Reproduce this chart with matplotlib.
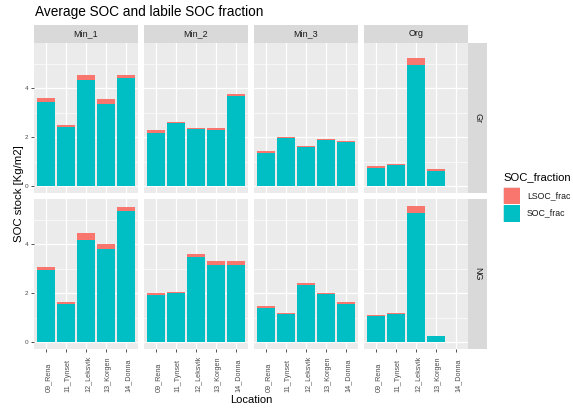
import matplotlib
matplotlib.use("Agg")
import matplotlib.pyplot as plt
import matplotlib.transforms as mtrans
import numpy as np

plt.rcParams['font.family'] = ['Liberation Sans', 'DejaVu Sans']

locations = ["09_Rena", "11_Tynset", "12_Leksvik", "13_Korgen", "14_Donna"]
depths = ["Min_1", "Min_2", "Min_3", "Org"]
treatments = ["Gr", "NG"]

# SOC_frac (stable part) and LSOC_frac (labile part) per treatment / depth / location
soc_frac = {
    "Gr": {
        "Min_1": [3.45, 2.41, 4.32, 3.36, 4.41],
        "Min_2": [2.17, 2.56, 2.32, 2.29, 3.68],
        "Min_3": [1.37, 1.98, 1.58, 1.89, 1.80],
        "Org":   [0.75, 0.87, 4.93, 0.63, np.nan],
    },
    "NG": {
        "Min_1": [2.96, 1.55, 4.16, 3.80, 5.35],
        "Min_2": [1.91, 2.01, 3.46, 3.16, 3.16],
        "Min_3": [1.41, 1.13, 2.34, 1.95, 1.55],
        "Org":   [1.05, 1.14, 5.26, 0.27, np.nan],
    },
}
lsoc_frac = {
    "Gr": {
        "Min_1": [0.16, 0.08, 0.21, 0.19, 0.12],
        "Min_2": [0.12, 0.06, 0.07, 0.10, 0.08],
        "Min_3": [0.07, 0.03, 0.05, 0.04, 0.06],
        "Org":   [0.06, 0.02, 0.28, 0.06, np.nan],
    },
    "NG": {
        "Min_1": [0.11, 0.07, 0.28, 0.21, 0.17],
        "Min_2": [0.11, 0.05, 0.15, 0.14, 0.16],
        "Min_3": [0.06, 0.05, 0.06, 0.07, 0.08],
        "Org":   [0.05, 0.03, 0.30, 0.00, np.nan],
    },
}
y_ticks = [0, 2, 4]
fraction_labels = ["LSOC_frac", "SOC_frac"]

RED = "#F8766D"
TEAL = "#00BFC4"
PANEL_BG = "#EBEBEB"
STRIP_BG = "#D9D9D9"
TXT = "#4D4D4D"

W, H = 573, 412
fig = plt.figure(figsize=(W / 100, H / 100), dpi=100)


def px(x0, y0, x1, y1):
    return [x0 / W, 1 - y1 / H, (x1 - x0) / W, (y1 - y0) / H]


col_x = [(34, 138), (144, 248), (254, 358), (364, 468)]
row_y = [(43, 193), (199, 349)]

ymax = 5.56
ylim = (-0.05 * ymax, ymax * 1.05)
xpos = np.arange(len(locations))

for r, tr in enumerate(treatments):
    for c, dp in enumerate(depths):
        x0, x1 = col_x[c]
        y0, y1 = row_y[r]
        ax = fig.add_axes(px(x0, y0, x1, y1))
        ax.set_facecolor(PANEL_BG)
        for s in ax.spines.values():
            s.set_visible(False)
        ax.set_xlim(-0.6, len(locations) - 0.4)
        ax.set_ylim(*ylim)
        ax.set_yticks(y_ticks)
        ax.set_yticks([1, 3, 5], minor=True)
        ax.set_xticks(xpos)
        ax.grid(True, which="major", color="white", lw=0.9)
        ax.grid(True, which="minor", axis="y", color="white", lw=0.45)
        ax.set_axisbelow(True)
        soc = np.array(soc_frac[tr][dp], dtype=float)
        lsoc = np.array(lsoc_frac[tr][dp], dtype=float)
        ax.bar(xpos, soc, width=0.9, color=TEAL, lw=0)
        ax.bar(xpos, lsoc, width=0.9, bottom=soc, color=RED, lw=0)
        ax.tick_params(which="minor", length=0)
        ax.tick_params(which="major", length=2.5, width=0.6, color="#333333",
                       labelsize=4.6, labelcolor=TXT, pad=1.5)
        if c == 0:
            ax.set_yticklabels([str(t) for t in y_ticks])
        else:
            ax.tick_params(axis="y", which="major", length=0, labelleft=False)
        if r == 1:
            ax.tick_params(axis="x", labelbottom=False)
            trans = mtrans.blended_transform_factory(ax.transData, fig.transFigure)
            for xi, lab in zip(xpos, locations):
                ax.text(xi - 0.07, 1 - 392 / H, lab, rotation=90, ha="left",
                        va="bottom", fontsize=5.2, color=TXT, transform=trans)
        else:
            ax.tick_params(axis="x", which="major", length=0, labelbottom=False)

        # column strip
        if r == 0:
            sax = fig.add_axes(px(x0, 25, x1, 43))
            sax.set_facecolor(STRIP_BG)
            sax.set_xticks([]); sax.set_yticks([])
            for s in sax.spines.values():
                s.set_visible(False)
            sax.text(0.5, 0.5, dp, ha="center", va="center", fontsize=6.5,
                     color="#1A1A1A", transform=sax.transAxes)
    # row strip
    y0, y1 = row_y[r]
    rax = fig.add_axes(px(468, y0, 487, y1))
    rax.set_facecolor(STRIP_BG)
    rax.set_xticks([]); rax.set_yticks([])
    for s in rax.spines.values():
        s.set_visible(False)
    rax.text(0.5, 0.5, tr, ha="center", va="center", rotation=-90, fontsize=6.5,
             color="#1A1A1A", transform=rax.transAxes)

# titles
fig.text(35 / W, 1 - 12 / H, "Average SOC and labile SOC fraction", ha="left",
         va="center", fontsize=9.85, color="black")
fig.text(251 / W, 1 - 400 / H, "Location", ha="center", va="center", fontsize=8)
fig.text(19 / W, 1 - 194 / H, "SOC stock [Kg/m2]", ha="center", va="center",
         rotation=90, fontsize=8.2)

# legend
fig.text(503 / W, 1 - 177 / H, "SOC_fraction", ha="left", va="center", fontsize=8.1)
legend_colors = [RED, TEAL]
for i, (lab, colr) in enumerate(zip(fraction_labels, legend_colors)):
    ky0 = 187 + i * 17.5
    kax = fig.add_axes(px(503, ky0, 520, ky0 + 17))
    kax.set_facecolor("#F2F2F2")
    kax.set_xticks([]); kax.set_yticks([])
    for s in kax.spines.values():
        s.set_visible(False)
    kax.add_patch(plt.Rectangle((0.04, 0.04), 0.92, 0.92, color=colr,
                                transform=kax.transAxes))
    fig.text(527 / W, 1 - (ky0 + 8.5) / H, lab, ha="left", va="center",
             fontsize=6.3, color="#1A1A1A")

fig.savefig("out.png", dpi=100)
